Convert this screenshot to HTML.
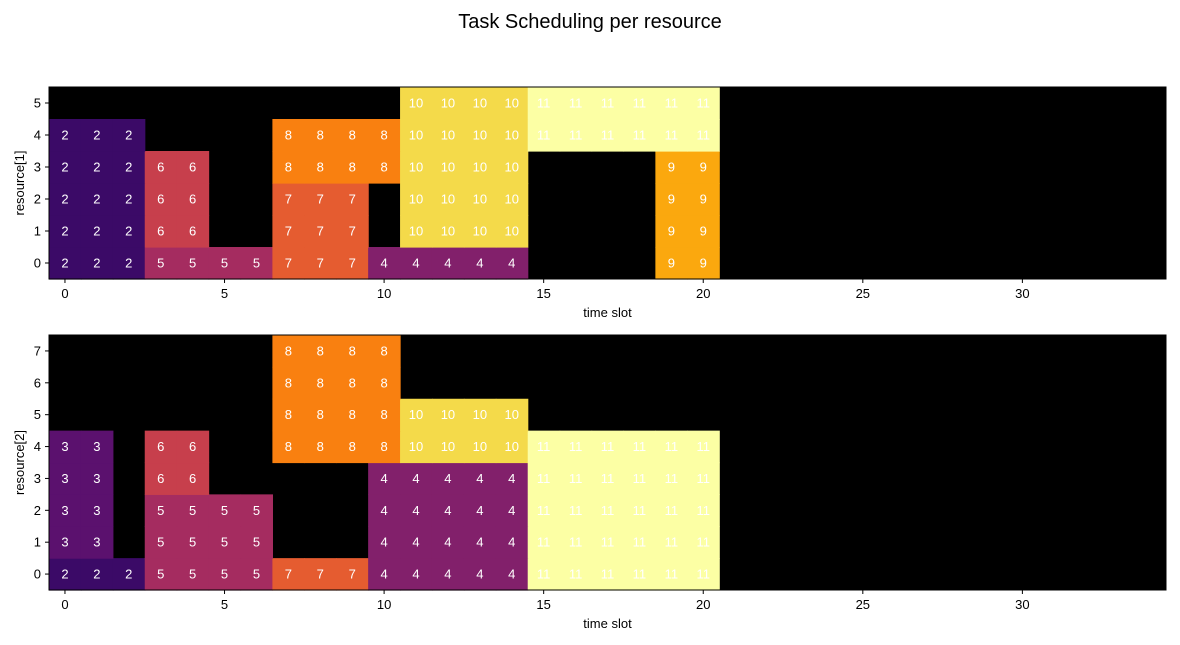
<!DOCTYPE html>
<html><head><meta charset="utf-8"><style>
body{margin:0;background:#fff;}
svg{display:block;font-family:"Liberation Sans","DejaVu Sans",sans-serif;}
</style></head><body>
<svg id="chart" width="1180" height="645">
<text x="590" y="28" text-anchor="middle" font-size="20" fill="#000">Task Scheduling per resource</text>
</svg>
<script>
const nCols = 35;
const xTicks = [0,5,10,15,20,25,30];
// resource[1] grid, row 0 first (values per time slot, 0 = idle)
const grid1 = [
 [2,2,2,5,5,5,5,7,7,7,4,4,4,4,4,0,0,0,0,9,9],
 [2,2,2,6,6,0,0,7,7,7,0,10,10,10,10,0,0,0,0,9,9],
 [2,2,2,6,6,0,0,7,7,7,0,10,10,10,10,0,0,0,0,9,9],
 [2,2,2,6,6,0,0,8,8,8,8,10,10,10,10,0,0,0,0,9,9],
 [2,2,2,0,0,0,0,8,8,8,8,10,10,10,10,11,11,11,11,11,11],
 [0,0,0,0,0,0,0,0,0,0,0,10,10,10,10,11,11,11,11,11,11]
];
// resource[2] grid
const grid2 = [
 [2,2,2,5,5,5,5,7,7,7,4,4,4,4,4,11,11,11,11,11,11],
 [3,3,0,5,5,5,5,0,0,0,4,4,4,4,4,11,11,11,11,11,11],
 [3,3,0,5,5,5,5,0,0,0,4,4,4,4,4,11,11,11,11,11,11],
 [3,3,0,6,6,0,0,0,0,0,4,4,4,4,4,11,11,11,11,11,11],
 [3,3,0,6,6,0,0,8,8,8,8,10,10,10,10,11,11,11,11,11,11],
 [0,0,0,0,0,0,0,8,8,8,8,10,10,10,10],
 [0,0,0,0,0,0,0,8,8,8,8],
 [0,0,0,0,0,0,0,8,8,8,8]
];
const colorMap = {0:'#000000',2:'#3b0a67',3:'#5b116e',4:'#82206b',5:'#a52c60',6:'#c73f4c',7:'#e55c30',8:'#f98010',9:'#fba80e',10:'#f4da4a',11:'#fcffa4'};
const NS='http://www.w3.org/2000/svg';
const svg=document.getElementById('chart');
function mk(tag,attrs,parent){const e=document.createElementNS(NS,tag);for(const k in attrs)e.setAttribute(k,attrs[k]);(parent||svg).appendChild(e);return e;}
function drawPanel(grid,left,top,right,bottom,yLabel,key){
  const nRows=grid.length;
  const cw=(right-left)/nCols, ch=(bottom-top)/nRows;
  const xs=c=>left+(c+0.5)*cw;
  const ys=r=>bottom-(r+0.5)*ch;
  const g=mk('g',{});
  
  
  const bg=mk('rect',{x:left,y:top,width:right-left,height:bottom-top,fill:'#000'},g);
  
  
  grid.forEach((row,r)=>{
    for(let c=0;c<nCols;c++){
      const v=row[c]||0;
      if(!v)continue;
      const cell=mk('rect',{x:xs(c)-cw/2,y:ys(r)-ch/2,width:cw+0.6,height:ch+0.6,fill:colorMap[v]},g);
      
      
      const t=mk('text',{x:xs(c),y:ys(r)+4.5,'text-anchor':'middle','font-size':13,fill:'#fff'},g);
      t.textContent=v;
      
      
    }
  });
  const frame=mk('rect',{x:left,y:top,width:right-left,height:bottom-top,fill:'none',stroke:'#000','stroke-width':1},g);
  
  
  xTicks.forEach(v=>{
    mk('line',{x1:xs(v),x2:xs(v),y1:bottom,y2:bottom+4,stroke:'#000'},g);
    const t=mk('text',{x:xs(v),y:bottom+19,'text-anchor':'middle','font-size':13,fill:'#000'},g);
    t.textContent=v;
    
    
  });
  for(let r=0;r<nRows;r++){
    mk('line',{x1:left-4,x2:left,y1:ys(r),y2:ys(r),stroke:'#000'},g);
    const t=mk('text',{x:left-8,y:ys(r)+4.5,'text-anchor':'end','font-size':13,fill:'#000'},g);
    t.textContent=r;
    
    
  }
  const xl=mk('text',{x:(left+right)/2,y:bottom+38,'text-anchor':'middle','font-size':13,fill:'#000'},g);
  xl.textContent='time slot';
  
  
  const cy=(top+bottom)/2;
  const yl=mk('text',{x:24,y:cy,'text-anchor':'middle','font-size':13,fill:'#000',transform:'rotate(-90 24 '+cy+')'},g);
  yl.textContent=yLabel;
  
  
}
drawPanel(grid1,49,87,1166,279,'resource[1]','resource1');
drawPanel(grid2,49,335,1166,590,'resource[2]','resource2');
</script>
</body></html>
